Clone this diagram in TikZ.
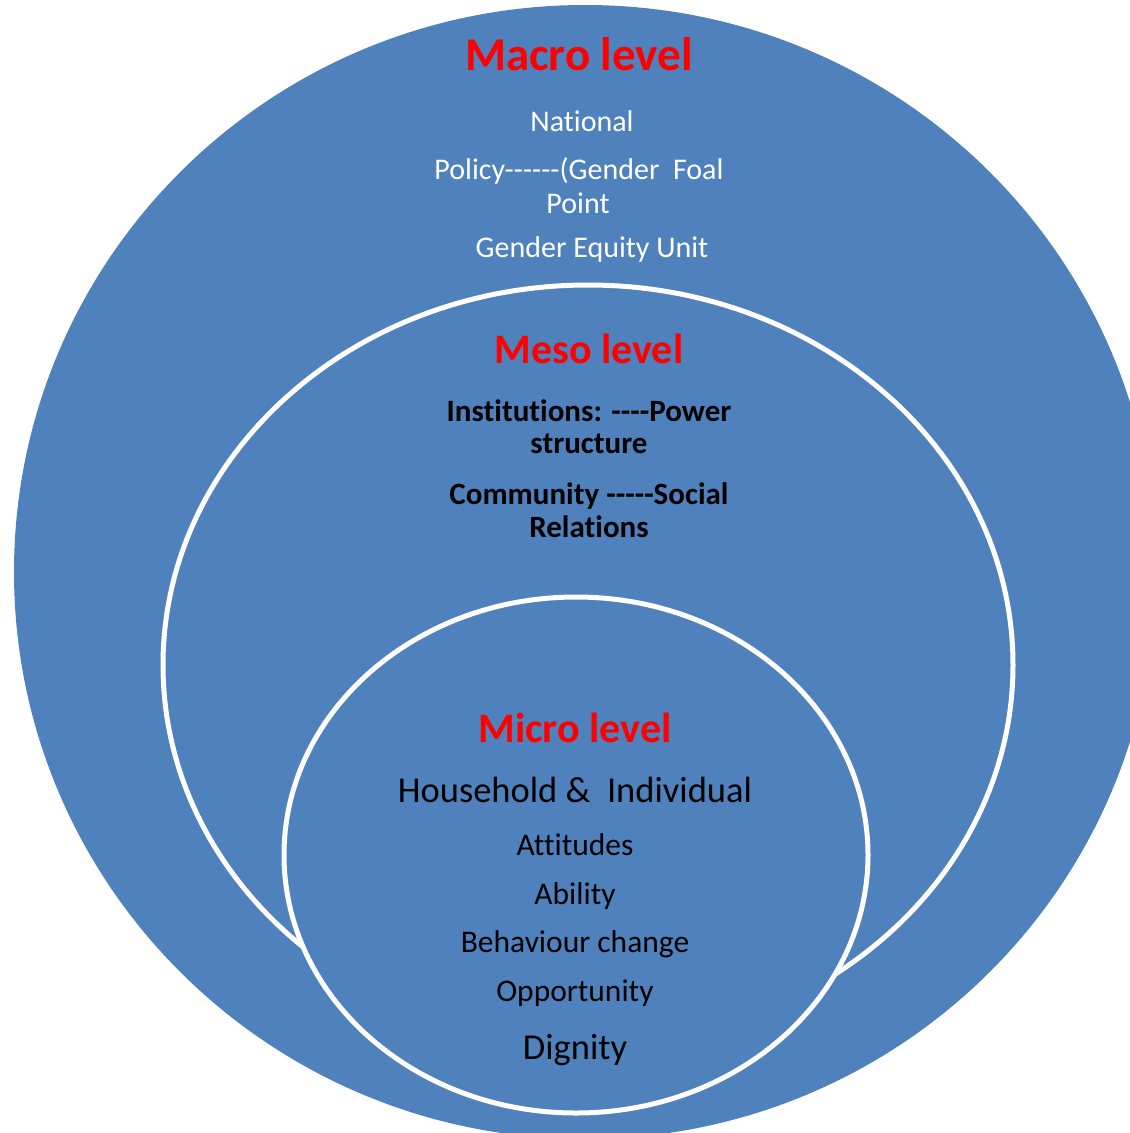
\documentclass[tikz,border=0pt]{standalone}
\usepackage{fontspec}
% plain hyphens and no "ti"-style ligatures
\newfontfamily\labelfont{Carlito}[Ligatures={NoCommon}]
\definecolor{levelblue}{HTML}{4F81BD}
\definecolor{levelred}{HTML}{FF0000}
\begin{document}
\begin{tikzpicture}[x=1pt,y=-1pt,
  ring/.style={fill=levelblue,draw=white,line width=5pt},
  txt/.style={inner sep=0pt,anchor=base},
  headline/.style={txt,text=levelred,font=\labelfont\bfseries\fontsize{42}{46}\selectfont},
  macrotxt/.style={txt,text=white,font=\labelfont\fontsize{30}{33}\selectfont},
  mesotxt/.style={txt,text=black,font=\labelfont\bfseries\fontsize{31}{35}\selectfont},
  microtxt/.style={txt,text=black,font=\labelfont\fontsize{31.5}{35}\selectfont},
  microbig/.style={txt,text=black,font=\labelfont\fontsize{36.5}{40}\selectfont}]
  \useasboundingbox (0,0) rectangle (1130,1133);
  \clip (0,0) rectangle (1130,1133);

  % nested levels
  \fill[levelblue] (585,572) ellipse [x radius=571, y radius=567];
  \path[ring] (588,665) ellipse [x radius=425, y radius=380];
  \path[ring] (576,855) ellipse [x radius=292, y radius=258];

  % macro level
  \node[headline,font=\labelfont\bfseries\fontsize{47}{50}\selectfont] (macro) at (579,70) {Macro level};
  \node[macrotxt] (national) at (582,131) {National};
  \node[macrotxt] (policy) at (579,179) {Policy------(Gender\ \ Foal};
  \node[macrotxt] (point) at (578,213) {Point};
  \node[macrotxt] (equity) at (592,257) {Gender Equity Unit};

  % meso level
  \node[headline] (meso) at (589,363) {Meso level};
  \node[mesotxt] (inst) at (589,421) {Institutions: ----Power};
  \node[mesotxt] (struct) at (589,453) {structure};
  \node[mesotxt] (comm) at (589,504) {Community -----Social};
  \node[mesotxt] (rel) at (589,537) {Relations};

  % micro level
  \node[headline] (micro) at (575,742) {Micro level};
  \node[microbig] (house) at (575,802) {Household \&\ \ Individual};
  \node[microtxt] (att) at (575,855) {Attitudes};
  \node[microtxt] (abil) at (575,904) {Ability};
  \node[microtxt] (behav) at (575,952) {Behaviour change};
  \node[microtxt] (opp) at (575,1001) {Opportunity};
  \node[microbig] (dign) at (575,1059) {Dignity};
\end{tikzpicture}
\end{document}
